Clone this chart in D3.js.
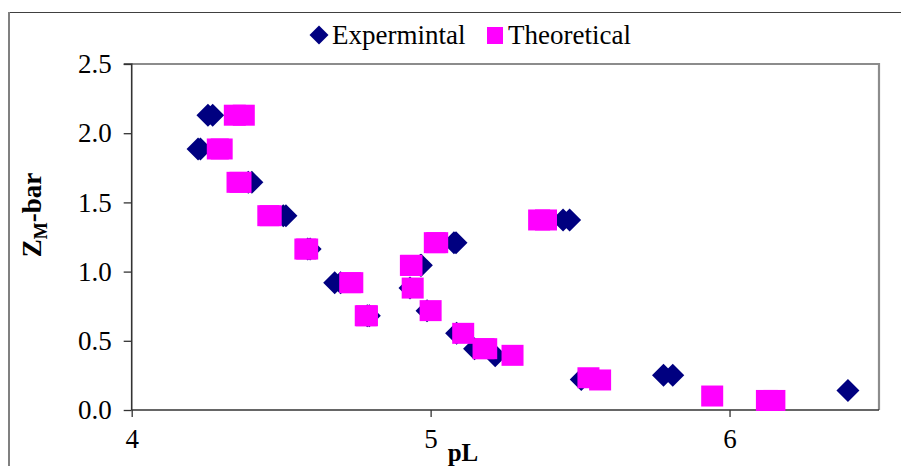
<!DOCTYPE html>
<html>
<head>
<meta charset="utf-8">
<script src="https://cdn.jsdelivr.net/npm/d3@7"></script>
<style>
  html, body { margin: 0; padding: 0; background: #fff; }
  svg { display: block; font-family: "Liberation Serif", "Times New Roman", serif; }
</style>
</head>
<body>
<svg id="chart" width="901" height="466"></svg>
<script>
// Experimental Z_M-bar against pL
const expPL = [4.255, 4.271, 4.222, 4.230, 4.390, 4.402, 4.507, 4.516, 4.589, 4.597,
               4.679, 4.699, 4.788, 4.795, 4.931, 4.966, 4.969, 4.988, 5.078, 5.085,
               5.087, 5.147, 5.216, 5.443, 5.465, 5.504, 5.779, 5.810, 6.396];
const expZ  = [2.13, 2.13, 1.886, 1.886, 1.645, 1.645, 1.404, 1.404, 1.163, 1.163,
               0.920, 0.920, 0.681, 0.681, 0.881, 1.045, 1.045, 0.718, 1.209, 1.209,
               0.554, 0.443, 0.392, 1.373, 1.373, 0.221, 0.251, 0.251, 0.140];

// Theoretical Z_M-bar against pL
const theoPL = [4.345, 4.375, 4.288, 4.301, 4.354, 4.364, 4.457, 4.465, 4.581, 4.587,
                4.731, 4.738, 4.783, 4.787, 4.934, 4.936, 4.940, 5.000, 5.014, 5.022,
                5.109, 5.177, 5.186, 5.274, 5.363, 5.386, 5.528, 5.567, 5.942, 6.125, 6.150];
const theoZ  = [2.13, 2.13, 1.886, 1.886, 1.645, 1.645, 1.404, 1.404, 1.163, 1.163,
                0.920, 0.920, 0.681, 0.681, 1.045, 1.045, 0.881, 0.718, 1.209, 1.209,
                0.554, 0.443, 0.443, 0.395, 1.373, 1.373, 0.233, 0.217, 0.101, 0.069, 0.069];

const xTicks = [4, 5, 6];
const yTicks = [0, 0.5, 1.0, 1.5, 2.0, 2.5];
const seriesNames = ["Expermintal", "Theoretical"];

const svg = d3.select("#chart");
const plot = { left: 131.7, right: 879, top: 64, bottom: 410 };

const x = d3.scaleLinear().domain([4, 6.5]).range([plot.left, plot.right]);
const y = d3.scaleLinear().domain([0, 2.5]).range([plot.bottom, plot.top]);

// outer chart frame
svg.append("line").attr("x1", 8).attr("x2", 901).attr("y1", 12.5).attr("y2", 12.5)
  .attr("stroke", "#404040").attr("stroke-width", 1.2);
svg.append("line").attr("x1", 9).attr("x2", 9).attr("y1", 12).attr("y2", 466)
  .attr("stroke", "#808080").attr("stroke-width", 2);

// plot area frame (top and right)
svg.append("path")
  .attr("d", `M${plot.left},${plot.top}H${plot.right}V${plot.bottom}`)
  .attr("fill", "none").attr("stroke", "#8c8c8c").attr("stroke-width", 2.2);

// axes
const yAxis = d3.axisLeft(y).tickValues(yTicks).tickFormat(d3.format(".1f"))
  .tickSize(8).tickPadding(12);
const xAxis = d3.axisBottom(x).tickValues(xTicks).tickFormat(d3.format("d"))
  .tickSize(7).tickPadding(12);

const gy = svg.append("g").attr("transform", `translate(${plot.left},0)`).call(yAxis);
const gx = svg.append("g").attr("transform", `translate(0,${plot.bottom})`).call(xAxis);

[gx, gy].forEach(g => {
  g.select(".domain").attr("stroke", "#333").attr("stroke-width", 1.6);
  g.selectAll(".tick line").attr("stroke", "#333").attr("stroke-width", 1.3);
  g.selectAll(".tick text").attr("fill", "#000")
    .style("font-family", '"Liberation Serif", "Times New Roman", serif')
    .style("font-size", "27px");
});
gy.select(".domain").attr("d", `M-8,${plot.top}H0V${plot.bottom}`);
gx.select(".domain").attr("d", `M${plot.left},0H${plot.right}`);

// axis titles
svg.append("text")
  .attr("x", 463).attr("y", 461)
  .attr("text-anchor", "middle")
  .style("font-size", "25px").style("font-weight", "bold")
  .text("pL");

const yt = svg.append("text")
  .attr("transform", "translate(41,215) rotate(-90)")
  .attr("text-anchor", "middle")
  .style("font-size", "27px").style("font-weight", "bold");
yt.append("tspan").text("Z");
yt.append("tspan").attr("dy", 6).style("font-size", "18px").text("M");
yt.append("tspan").attr("dy", -6).text("-bar");

// markers
const diamond = (cx, cy, r) => `M${cx},${cy - r}L${cx + r},${cy}L${cx},${cy + r}L${cx - r},${cy}Z`;

svg.append("g").selectAll("path")
  .data(d3.zip(expPL, expZ))
  .join("path")
  .attr("d", d => diamond(x(d[0]), y(d[1]), 11.5))
  .attr("fill", "#000080");

const sqW = 22, sqH = 21;
svg.append("g").selectAll("rect")
  .data(d3.zip(theoPL, theoZ))
  .join("rect")
  .attr("x", d => x(d[0]) - sqW / 2)
  .attr("y", d => y(d[1]) - sqH / 2)
  .attr("width", sqW).attr("height", sqH)
  .attr("fill", "#ff00ff");

// legend
const lg = svg.append("g");
lg.append("path").attr("d", diamond(319, 35, 9.5)).attr("fill", "#000080");
lg.append("text").attr("x", 332).attr("y", 44).style("font-size", "27px").text(seriesNames[0]);
lg.append("rect").attr("x", 487).attr("y", 27).attr("width", 16).attr("height", 17).attr("fill", "#ff00ff");
lg.append("text").attr("x", 508).attr("y", 44).style("font-size", "27px").text(seriesNames[1]);
</script>
</body>
</html>
